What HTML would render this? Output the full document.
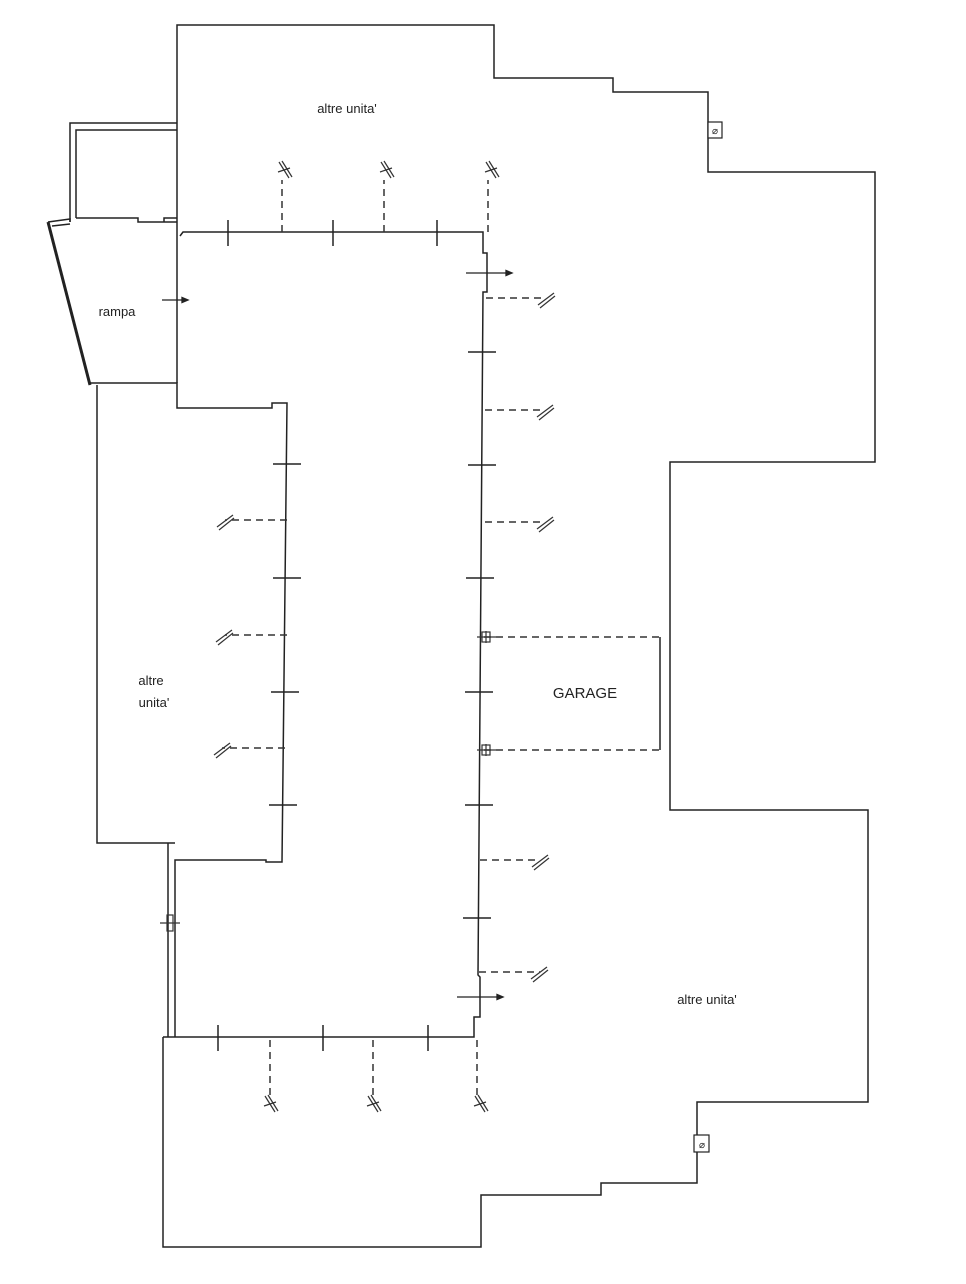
<!DOCTYPE html>
<html><head><meta charset="utf-8"><style>
html,body{margin:0;padding:0;background:#fff;}
svg{display:block;}
text{font-family:"Liberation Sans",sans-serif;fill:#222;}
</style></head><body>
<svg width="966" height="1284" viewBox="0 0 966 1284" xmlns="http://www.w3.org/2000/svg">
<g fill="none" stroke="#222" stroke-width="1.5">
<!-- outer top + right -->
<polyline points="177,383 177,25 494,25 494,78 613,78 613,92 708,92 708,172 875,172 875,462 670,462 670,810 868,810 868,1102 697,1102 697,1183 601,1183 601,1195 481,1195 481,1247 163,1247 163,1037"/>
<!-- corridor -->
<polyline points="180,236 183,232 483,232 483,253 487,253 487,292 483,292 478,975 480,977 480,1017 474,1017 474,1037 163,1037"/>
<!-- left unit -->
<polyline points="90,383 177,383 177,408 272,408 272,403 287,403 282,862 266,862 266,860 175,860 175,1037"/>
<polyline points="97,385 97,843 175,843"/>
<line x1="168" y1="843" x2="168" y2="1037"/>
<!-- small room -->
<polyline points="70,222 70,123 177,123"/>
<polyline points="76,218 76,130 177,130"/>
<polyline points="76,218 138,218 138,222 177,222"/>
<polyline points="164,222 164,218 177,218"/>
<polyline points="48,222 70,219 70,222"/>
<line x1="52" y1="226" x2="70" y2="224"/>
<!-- garage -->
<line x1="660" y1="637" x2="660" y2="750"/>
</g>
<!-- rampa slanted thick -->
<line x1="48" y1="222" x2="90" y2="385" stroke="#222" stroke-width="3"/>
<!-- ticks -->
<g stroke="#222" stroke-width="1.5">
<line x1="228" y1="220" x2="228" y2="246"/><line x1="333" y1="220" x2="333" y2="246"/><line x1="437" y1="220" x2="437" y2="246"/>
<line x1="218" y1="1025" x2="218" y2="1051"/><line x1="323" y1="1025" x2="323" y2="1051"/><line x1="428" y1="1025" x2="428" y2="1051"/>
<line x1="468" y1="352" x2="496" y2="352"/><line x1="468" y1="465" x2="496" y2="465"/><line x1="466" y1="578" x2="494" y2="578"/>
<line x1="465" y1="692" x2="493" y2="692"/><line x1="465" y1="805" x2="493" y2="805"/><line x1="463" y1="918" x2="491" y2="918"/>
<line x1="273" y1="464" x2="301" y2="464"/><line x1="273" y1="578" x2="301" y2="578"/><line x1="271" y1="692" x2="299" y2="692"/><line x1="269" y1="805" x2="297" y2="805"/>
</g>
<!-- dashed -->
<g stroke="#333" stroke-width="1.5" stroke-dasharray="7,5" fill="none">
<line x1="282" y1="232" x2="282" y2="180"/><line x1="384" y1="232" x2="384" y2="180"/><line x1="488" y1="232" x2="488" y2="180"/>
<line x1="270" y1="1040" x2="270" y2="1100"/><line x1="373" y1="1040" x2="373" y2="1100"/><line x1="477" y1="1040" x2="477" y2="1100"/>
<line x1="486" y1="298" x2="545" y2="298"/><line x1="485" y1="410" x2="545" y2="410"/><line x1="485" y1="522" x2="545" y2="522"/>
<line x1="480" y1="860" x2="540" y2="860"/><line x1="479" y1="972" x2="540" y2="972"/>
<line x1="287" y1="520" x2="225" y2="520"/><line x1="287" y1="635" x2="225" y2="635"/><line x1="285" y1="748" x2="222" y2="748"/>
<polyline points="484,637 660,637"/><polyline points="484,750 660,750"/>
</g>
<!-- slash symbols -->
<g stroke="#333" stroke-width="1.2">
<g transform="translate(284,170)"><line x1="-5" y1="-8" x2="5" y2="8"/><line x1="-2" y1="-9" x2="8" y2="7"/><line x1="-6" y1="2" x2="6" y2="-2"/></g>
<g transform="translate(386,170)"><line x1="-5" y1="-8" x2="5" y2="8"/><line x1="-2" y1="-9" x2="8" y2="7"/><line x1="-6" y1="2" x2="6" y2="-2"/></g>
<g transform="translate(491,170)"><line x1="-5" y1="-8" x2="5" y2="8"/><line x1="-2" y1="-9" x2="8" y2="7"/><line x1="-6" y1="2" x2="6" y2="-2"/></g>
<g transform="translate(270,1104)"><line x1="-5" y1="-8" x2="5" y2="8"/><line x1="-2" y1="-9" x2="8" y2="7"/><line x1="-6" y1="2" x2="6" y2="-2"/></g>
<g transform="translate(373,1104)"><line x1="-5" y1="-8" x2="5" y2="8"/><line x1="-2" y1="-9" x2="8" y2="7"/><line x1="-6" y1="2" x2="6" y2="-2"/></g>
<g transform="translate(480,1104)"><line x1="-5" y1="-8" x2="5" y2="8"/><line x1="-2" y1="-9" x2="8" y2="7"/><line x1="-6" y1="2" x2="6" y2="-2"/></g>
<g transform="translate(546,299)"><line x1="-8" y1="6" x2="8" y2="-6"/><line x1="-6" y1="9" x2="9" y2="-3"/></g>
<g transform="translate(545,411)"><line x1="-8" y1="6" x2="8" y2="-6"/><line x1="-6" y1="9" x2="9" y2="-3"/></g>
<g transform="translate(545,523)"><line x1="-8" y1="6" x2="8" y2="-6"/><line x1="-6" y1="9" x2="9" y2="-3"/></g>
<g transform="translate(540,861)"><line x1="-8" y1="6" x2="8" y2="-6"/><line x1="-6" y1="9" x2="9" y2="-3"/></g>
<g transform="translate(539,973)"><line x1="-8" y1="6" x2="8" y2="-6"/><line x1="-6" y1="9" x2="9" y2="-3"/></g>
<g transform="translate(225,521)"><line x1="-8" y1="6" x2="8" y2="-6"/><line x1="-6" y1="9" x2="9" y2="-3"/></g>
<g transform="translate(224,636)"><line x1="-8" y1="6" x2="8" y2="-6"/><line x1="-6" y1="9" x2="9" y2="-3"/></g>
<g transform="translate(222,749)"><line x1="-8" y1="6" x2="8" y2="-6"/><line x1="-6" y1="9" x2="9" y2="-3"/></g>
<!-- garage symbols -->
<g transform="translate(486,637)"><rect x="-4" y="-5" width="8" height="10" fill="none"/><line x1="-9" y1="0" x2="10" y2="0"/><line x1="0" y1="-6" x2="0" y2="6"/></g>
<g transform="translate(486,750)"><rect x="-4" y="-5" width="8" height="10" fill="none"/><line x1="-9" y1="0" x2="10" y2="0"/><line x1="0" y1="-6" x2="0" y2="6"/></g>
<g transform="translate(170,923)"><rect x="-3" y="-8" width="6" height="16" fill="none"/><line x1="-10" y1="0" x2="10" y2="0"/></g>
</g>
<!-- arrows -->
<g stroke="#222" stroke-width="1.3" fill="#222">
<line x1="162" y1="300" x2="184" y2="300"/><polygon points="188,300 182,297.5 182,302.5"/>
<line x1="466" y1="273" x2="508" y2="273"/><polygon points="512,273 506,270.5 506,275.5"/>
<line x1="457" y1="997" x2="499" y2="997"/><polygon points="503,997 497,994.5 497,999.5"/>
</g>
<!-- chimney boxes -->
<g stroke="#222" stroke-width="1.2" fill="#fff">
<rect x="708" y="122" width="14" height="16"/>
<rect x="694" y="1135" width="15" height="17"/>
</g>
<text x="715" y="134" font-size="10" text-anchor="middle">⌀</text>
<text x="702" y="1148" font-size="10" text-anchor="middle">⌀</text>
<!-- labels -->
<g font-size="13" text-anchor="middle">
<text x="347" y="113">altre unita'</text>
<text x="117" y="316">rampa</text>
<text x="151" y="685">altre</text>
<text x="154" y="707">unita'</text>
<text x="707" y="1004">altre unita'</text>
<text x="585" y="698" font-size="15">GARAGE</text>
</g>
</svg>
</body></html>
